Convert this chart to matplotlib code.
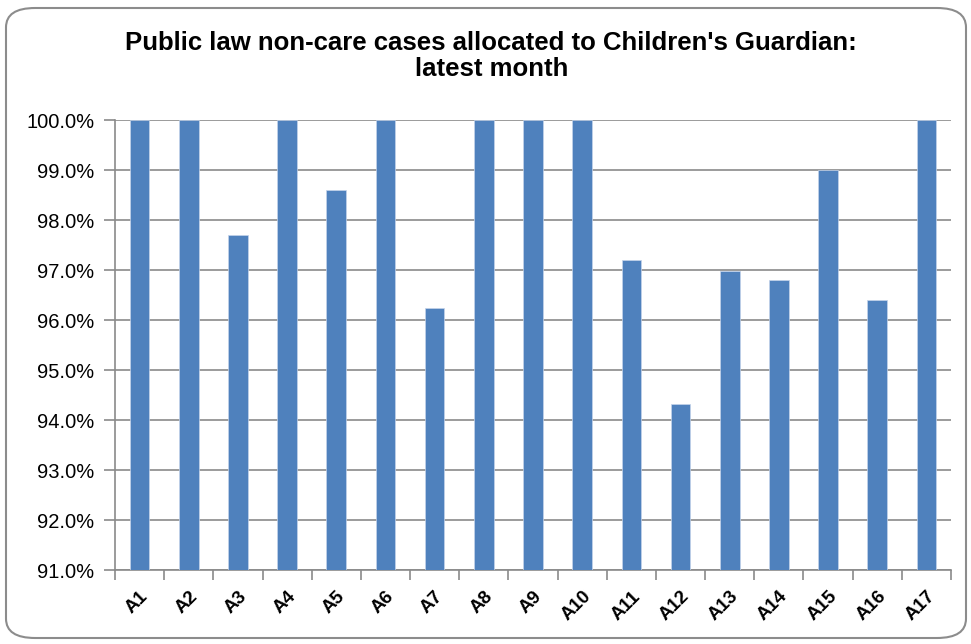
import numpy as np
import matplotlib.pyplot as plt
from matplotlib.patches import FancyBboxPatch

areas = ['A1', 'A2', 'A3', 'A4', 'A5', 'A6', 'A7', 'A8', 'A9', 'A10',
         'A11', 'A12', 'A13', 'A14', 'A15', 'A16', 'A17']
pct = [100.0, 100.0, 97.7, 100.0, 98.61, 100.0, 96.25, 100.0, 100.0, 100.0,
       97.21, 94.33, 96.98, 96.81, 99.0, 96.41, 100.0]
yticks = [91, 92, 93, 94, 95, 96, 97, 98, 99, 100]

title = "Public law non-care cases allocated to Children's Guardian:\nlatest month"

fig = plt.figure(figsize=(9.71, 6.44), dpi=100)
ax = fig.add_axes([115/971, 74/644, (951-115)/971, 450/644])

# rounded chart border
fig.patches.append(FancyBboxPatch((6/971, 6/644), 960/971, 630/644,
                                  boxstyle="round,pad=0,rounding_size=0.03",
                                  transform=fig.transFigure, fill=False,
                                  edgecolor='#8c8c8c', linewidth=1.5))

x = np.arange(len(areas))
ax.bar(x, pct, width=0.4, color='#4f81bd', edgecolor='#c5d4ea', linewidth=0.5, zorder=3)

ax.set_ylim(91, 100)
ax.set_xlim(-0.5, len(areas) - 0.5)
ax.set_yticks(yticks)
ax.set_yticklabels(['%.1f%%' % v for v in yticks], fontsize=14.5, family='Liberation Sans')
ax.yaxis.grid(True, color='#8a8a8a', linewidth=1.2, zorder=0)

ax.set_xticks(x)
ax.set_xticklabels(areas, rotation=45, ha='right', rotation_mode='anchor',
                   fontsize=13.5, fontweight='bold', family='Liberation Sans')
ax.set_xticks(np.arange(-0.5, len(areas)), minor=True)
ax.tick_params(axis='x', which='major', length=0, pad=13)
ax.tick_params(axis='x', which='minor', length=7, color='#8a8a8a', width=1.2)
ax.tick_params(axis='y', length=8, color='#8a8a8a', width=1.2, pad=7)

for s in ['top', 'right']:
    ax.spines[s].set_visible(False)
for s in ['left', 'bottom']:
    ax.spines[s].set_color('#8a8a8a')
    ax.spines[s].set_linewidth(1.2)

fig.text(0.506, 1 - 56/644, title, ha='center', va='center',
         fontsize=18.5, fontweight='bold', family='Liberation Sans',
         linespacing=1.08)

fig.savefig('out.png', dpi=100)
